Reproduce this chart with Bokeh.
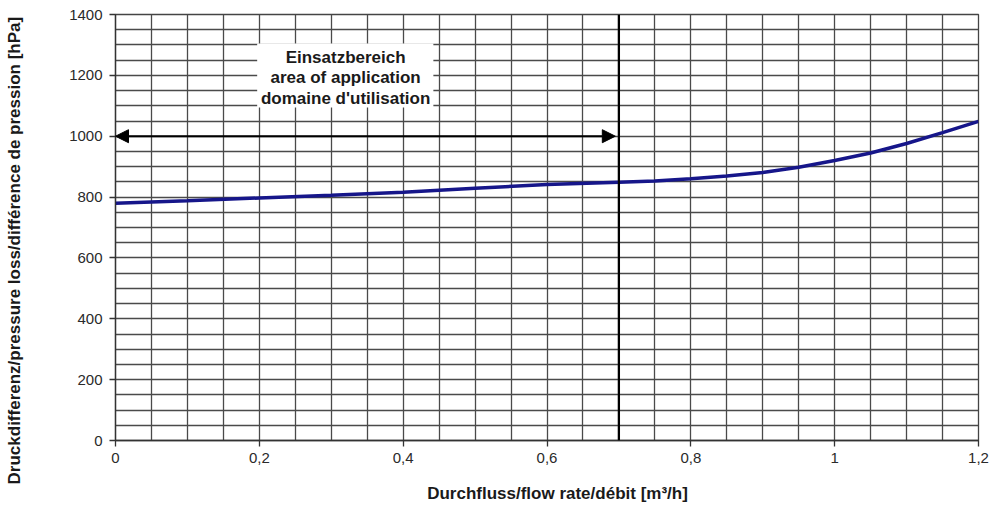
from bokeh.plotting import figure
from bokeh.models import (Range1d, SingleIntervalTicker, FixedTicker, Span, Arrow,
                          NormalHead, LinearAxis, ColumnDataSource)
from bokeh.embed import file_html
from bokeh.resources import INLINE
from bokeh.core.properties import value

# ---- data ----
flow_rate = [0.0, 0.1, 0.2, 0.3, 0.4, 0.5, 0.6, 0.7, 0.75, 0.8, 0.85, 0.9,
             0.95, 1.0, 1.05, 1.1, 1.15, 1.2]
pressure_loss = [780, 788, 797, 806, 816, 829, 841, 849, 853, 860, 869, 881,
                 898, 920, 945, 976, 1012, 1049]

x_ticks = [0, 0.2, 0.4, 0.6, 0.8, 1.0, 1.2]
x_tick_labels = ["0", "0,2", "0,4", "0,6", "0,8", "1", "1,2"]
y_ticks = [0, 200, 400, 600, 800, 1000, 1200, 1400]

range_start = 0.0      # area of application start [m³/h]
range_end = 0.7        # area of application limit [m³/h]
range_arrow_level = 1000  # hPa
area_text = ["Einsatzbereich", "area of application", "domaine d'utilisation"]
x_label = "Durchfluss/flow rate/débit [m³/h]"
y_label = "Druckdifferenz/pressure loss/différence de pression [hPa]"

FONT = "Liberation Sans"
# placement of the axis titles along their axes (layout, not data)
X_TITLE_AT = 0.6146
Y_TITLE_AT = 624

p = figure(width=996, height=508, output_backend="svg", toolbar_location=None,
           x_range=Range1d(0, 1.2), y_range=Range1d(0, 1400),
           min_border_left=115, min_border_right=18, min_border_top=14,
           min_border_bottom=68)
p.background_fill_color = "white"
p.border_fill_color = "white"
p.outline_line_color = "#444444"
p.outline_line_width = 1.3

# grid
p.xgrid.ticker = SingleIntervalTicker(interval=0.05)
p.ygrid.ticker = SingleIntervalTicker(interval=50)
for g in (p.xgrid, p.ygrid):
    g.grid_line_color = "#4a4a4a"
    g.grid_line_width = 1.3
    g.grid_line_alpha = 1.0

# axes
p.xaxis.ticker = FixedTicker(ticks=x_ticks)
p.xaxis.major_label_overrides = {t: l for t, l in zip(x_ticks, x_tick_labels)}
p.yaxis.ticker = FixedTicker(ticks=y_ticks)
for ax in (p.xaxis, p.yaxis):
    ax.axis_line_color = "#333333"
    ax.axis_line_width = 1.3
    ax.major_tick_line_color = "#333333"
    ax.major_tick_line_width = 1.3
    ax.major_tick_out = 6
    ax.major_tick_in = 0
    ax.minor_tick_out = 0
    ax.minor_tick_in = 0
    ax.major_label_text_font = FONT
    ax.major_label_text_font_size = "15px"
    ax.major_label_text_color = "#2a2a2a"
p.xaxis.major_label_standoff = 6
p.yaxis.major_label_standoff = 7

# axis titles, placed as single labels of outer, line-less axes
def title_axis(pos, text, standoff, orientation):
    a = LinearAxis(ticker=FixedTicker(ticks=[pos]),
                   major_label_overrides={pos: text},
                   axis_line_color=None, major_tick_line_color=None,
                   major_tick_out=0, major_tick_in=0,
                   minor_tick_out=0, minor_tick_in=0,
                   major_label_standoff=standoff,
                   major_label_orientation=orientation,
                   major_label_text_font=FONT,
                   major_label_text_font_style="bold",
                   major_label_text_font_size="17px",
                   major_label_text_color="#1a1a1a")
    return a

p.add_layout(title_axis(X_TITLE_AT, x_label, 18, "horizontal"), "below")
p.add_layout(title_axis(Y_TITLE_AT, y_label, 42, "vertical"), "left")

# white box behind annotation text
box = ColumnDataSource(dict(left=[0.197], right=[0.442], bottom=[1094], top=[1305]))
p.quad(left="left", right="right", bottom="bottom", top="top", source=box,
       fill_color="white", line_color=None)

# limit line at 0.7
p.add_layout(Span(location=range_end, dimension="height", line_color="black",
                  line_width=2.2))

# double arrow for area of application
p.add_layout(Arrow(x_start=range_start, y_start=range_arrow_level,
                   x_end=range_end - 0.005, y_end=range_arrow_level,
                   line_color="black", line_width=2,
                   start=NormalHead(size=13, fill_color="black", line_color="black"),
                   end=NormalHead(size=13, fill_color="black", line_color="black")))

# annotation text
text_src = ColumnDataSource(dict(x=[0.32] * 3, y=[1259, 1193, 1124], t=area_text))
p.text(x="x", y="y", text="t", source=text_src, text_font=value(FONT),
       text_font_style="bold", text_font_size="17px", text_align="center",
       text_baseline="middle", text_color="#1a1a1a")

# curve
p.line(flow_rate, pressure_loss, line_color="#16168a", line_width=3.5)

open("out.html", "w").write(file_html(p, INLINE))
